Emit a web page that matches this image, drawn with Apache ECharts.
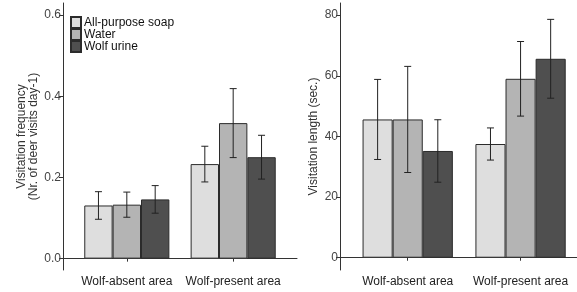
<!DOCTYPE html>
<html>
<head>
<meta charset="utf-8">
<script src="https://cdn.jsdelivr.net/npm/echarts@6/dist/echarts.min.js"></script>
<style>html,body{margin:0;padding:0;background:#fff}#c{width:577px;height:292px}</style>
</head>
<body>
<div id="c"></div>
<script>
var categories = ['Wolf-absent area', 'Wolf-present area'];
var seriesNames = ['All-purpose soap', 'Water', 'Wolf urine'];
// Left panel: visitation frequency (mean, SE)
var freqSoap = [0.131, 0.233];
var freqSoapSE = [0.034, 0.044];
var freqWater = [0.133, 0.334];
var freqWaterSE = [0.031, 0.085];
var freqUrine = [0.146, 0.250];
var freqUrineSE = [0.034, 0.054];
// Right panel: visitation length (mean, SE)
var lenSoap = [45.6, 37.5];
var lenSoapSE = [13.2, 5.3];
var lenWater = [45.6, 59.0];
var lenWaterSE = [17.5, 12.3];
var lenUrine = [35.2, 65.6];
var lenUrineSE = [10.3, 13.0];
var freqTicks = [0, 0.2, 0.4, 0.6];
var lenTicks = [0, 20, 40, 60, 80];
var catPos = [1, 2];

var fills = ['#dedede', '#b4b4b4', '#4f4f4f'];
var FONT = 'Liberation Sans, Arial, sans-serif';
var axisCol = '#333';

function barSeries(name, vals, idx, gi) {
  return {
    type: 'bar', name: name, xAxisIndex: gi, yAxisIndex: gi,
    barGap: '0%', barCategoryGap: '20%',
    itemStyle: { color: fills[idx], borderColor: '#2b2b2b', borderWidth: 1 },
    data: vals.map(function (v, i) { return [catPos[i], v]; }),
    silent: true, animation: false
  };
}
function errSeries(vals, se, idx, gi) {
  return {
    type: 'custom', xAxisIndex: gi, yAxisIndex: gi, silent: true, animation: false,
    data: vals.map(function (v, i) { return [catPos[i], v - se[i], v + se[i]]; }),
    renderItem: function (params, api) {
      var unit = api.size([1, 0])[0];
      var off = (idx - 1) * unit * 0.8 / 3;
      var lo = api.coord([api.value(0), api.value(1)]);
      var hi = api.coord([api.value(0), api.value(2)]);
      var x = lo[0] + off;
      var w = 3.5;
      var st = { stroke: '#222', lineWidth: 1 };
      return { type: 'group', children: [
        { type: 'line', shape: { x1: x, y1: lo[1], x2: x, y2: hi[1] }, style: st },
        { type: 'line', shape: { x1: x - w, y1: hi[1], x2: x + w, y2: hi[1] }, style: st },
        { type: 'line', shape: { x1: x - w, y1: lo[1], x2: x + w, y2: lo[1] }, style: st }
      ]};
    },
    z: 5
  };
}
function xAxis(gi, max) {
  return {
    type: 'value', gridIndex: gi, min: 0.4, max: max,
    axisLine: { show: true, lineStyle: { color: axisCol, width: 1 } },
    axisTick: { show: true, length: 3, lineStyle: { color: axisCol }, customValues: catPos },
    axisLabel: { color: '#222', fontSize: 12, fontFamily: FONT, margin: 6, customValues: catPos,
      formatter: function (v) { return categories[Math.round(v) - 1] || ''; } },
    splitLine: { show: false }
  };
}
function yAxis(gi, min, max, ticks, name, gap, fmt) {
  return {
    type: 'value', gridIndex: gi, min: min, max: max,
    name: name, nameLocation: 'middle', nameGap: gap, nameRotate: 90,
    nameTextStyle: { color: '#333', fontSize: 12, fontFamily: FONT, lineHeight: 12 },
    axisLine: { show: true, lineStyle: { color: axisCol, width: 1 } },
    axisTick: { show: true, length: 4, lineStyle: { color: axisCol }, customValues: ticks },
    axisLabel: { color: '#444', fontSize: 12, fontFamily: FONT, margin: 2, customValues: ticks, formatter: fmt },
    splitLine: { show: false }
  };
}

var chart = echarts.init(document.getElementById('c'), null, { renderer: 'canvas' });
chart.setOption({
  animation: false,
  backgroundColor: '#fff',
  grid: [
    { left: 63, top: 3, width: 234, height: 267 },
    { left: 340, top: 3, right: 0, height: 267 }
  ],
  legend: {
    data: seriesNames, orient: 'vertical', left: 70, top: 16, padding: 0,
    itemWidth: 10, itemHeight: 11, itemGap: -1, icon: 'rect', selectedMode: false,
    textStyle: { color: '#111', fontSize: 12, fontFamily: FONT, lineHeight: 10, height: 10, padding: [0, 0, 0, -2] }
  },
  xAxis: [xAxis(0, 2.6), xAxis(1, 2.5)],
  yAxis: [
    yAxis(0, -0.028, 0.63, freqTicks, 'Visitation frequency\n(Nr. of deer visits day-1)', 23, function (v) { return v.toFixed(1); }),
    yAxis(1, -4.05, 84, lenTicks, 'Visitation length (sec.)', 20, function (v) { return String(v); })
  ],
  series: [
    barSeries(seriesNames[0], freqSoap, 0, 0),
    barSeries(seriesNames[1], freqWater, 1, 0),
    barSeries(seriesNames[2], freqUrine, 2, 0),
    barSeries(seriesNames[0], lenSoap, 0, 1),
    barSeries(seriesNames[1], lenWater, 1, 1),
    barSeries(seriesNames[2], lenUrine, 2, 1),
    errSeries(freqSoap, freqSoapSE, 0, 0),
    errSeries(freqWater, freqWaterSE, 1, 0),
    errSeries(freqUrine, freqUrineSE, 2, 0),
    errSeries(lenSoap, lenSoapSE, 0, 1),
    errSeries(lenWater, lenWaterSE, 1, 1),
    errSeries(lenUrine, lenUrineSE, 2, 1)
  ]
});
</script>
</body>
</html>
